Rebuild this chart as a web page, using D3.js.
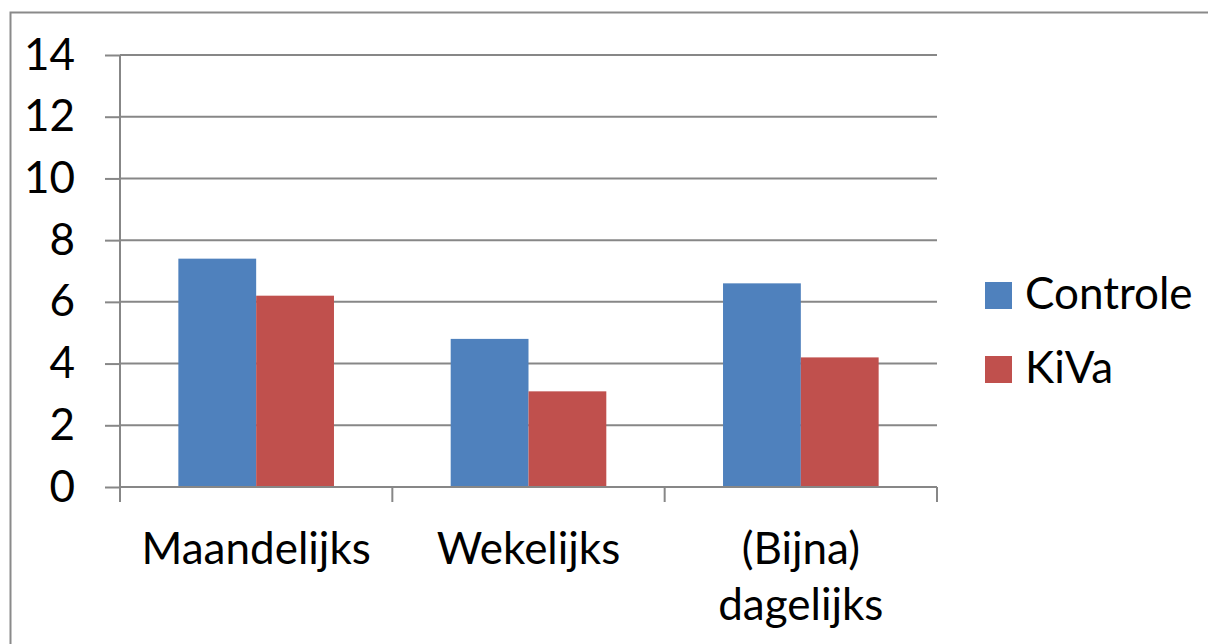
<!DOCTYPE html>
<html>
<head>
<meta charset="utf-8">
<script src="https://cdn.jsdelivr.net/npm/d3@7"></script>
<style>
  html, body { margin: 0; padding: 0; background: #fff; }
  svg { display: block; }
  text { font-family: Lato, "Open Sans", sans-serif; fill: #000; }
</style>
</head>
<body>
<svg id="chart" width="1208" height="644"></svg>
<script>
const categories = ["Maandelijks", "Wekelijks", "(Bijna) dagelijks"];
const seriesNames = ["Controle", "KiVa"];
const controleValues = [7.4, 4.8, 6.6];
const kivaValues = [6.2, 3.1, 4.2];
const yTicks = [0, 2, 4, 6, 8, 10, 12, 14];
const colors = ["#4F81BD", "#C0504D"];

const svg = d3.select("#chart");
const W = 1208, H = 644;
const plot = { left: 120, right: 937, top: 55, bottom: 487 };
const fontSize = 44;
const gridColor = "#878787";

// outer chart border (top & left visible, extends beyond frame)
svg.append("rect")
  .attr("x", 10.5).attr("y", 12.5)
  .attr("width", W + 20).attr("height", H + 20)
  .attr("fill", "none").attr("stroke", "#8a8a8a").attr("stroke-width", 2);

const x0 = d3.scaleBand().domain(categories).range([plot.left, plot.right]).paddingInner(0).paddingOuter(0);
const innerPad = x0.bandwidth() * 0.75 / 3.5; // gap width 150%
const x1 = d3.scaleBand().domain(seriesNames)
  .range([innerPad, x0.bandwidth() - innerPad]).padding(0);
const y = d3.scaleLinear().domain([0, 14]).range([plot.bottom, plot.top]);

// gridlines
svg.append("g").selectAll("line").data(yTicks.filter(d => d > 0)).join("line")
  .attr("x1", plot.left).attr("x2", plot.right)
  .attr("y1", d => y(d)).attr("y2", d => y(d))
  .attr("stroke", gridColor).attr("stroke-width", 2);

// bars
const data = categories.map((c, i) => ({ cat: c, vals: [controleValues[i], kivaValues[i]] }));
const groups = svg.append("g").selectAll("g").data(data).join("g")
  .attr("transform", d => `translate(${x0(d.cat)},0)`);
groups.selectAll("rect").data(d => d.vals.map((v, j) => ({ name: seriesNames[j], v, j }))).join("rect")
  .attr("x", d => x1(d.name))
  .attr("width", x1.bandwidth())
  .attr("y", d => y(d.v))
  .attr("height", d => y(0) - y(d.v))
  .attr("fill", d => colors[d.j]);

// y axis
const yAxis = d3.axisLeft(y).tickValues(yTicks).tickSize(15).tickPadding(30).tickFormat(d3.format("d"));
const yg = svg.append("g").attr("transform", `translate(${plot.left},0)`).call(yAxis);
yg.select(".domain").attr("stroke", gridColor).attr("stroke-width", 2)
  .attr("d", `M0,${plot.top}V${plot.bottom}`);
yg.selectAll(".tick line").attr("stroke", gridColor).attr("stroke-width", 2);
yg.selectAll(".tick text").attr("font-size", fontSize).attr("font-family", "Lato").attr("fill", "#000");

// x axis line and tick marks at category boundaries
const boundaries = categories.map(c => x0(c)).concat([plot.right]);
svg.append("line").attr("x1", plot.left).attr("x2", plot.right)
  .attr("y1", plot.bottom).attr("y2", plot.bottom)
  .attr("stroke", gridColor).attr("stroke-width", 2);
svg.append("g").selectAll("line").data(boundaries).join("line")
  .attr("x1", d => d).attr("x2", d => d)
  .attr("y1", plot.bottom).attr("y2", plot.bottom + 15)
  .attr("stroke", gridColor).attr("stroke-width", 2);

// x labels
const xl = svg.append("g").selectAll("text").data(categories).join("text")
  .attr("x", d => x0(d) + x0.bandwidth() / 2)
  .attr("y", 564)
  .attr("text-anchor", "middle")
  .attr("font-size", fontSize);
xl.each(function(d) {
  const words = d.split(" ");
  const t = d3.select(this);
  words.forEach((w, i) => {
    t.append("tspan").attr("x", x0(d) + x0.bandwidth() / 2)
      .attr("dy", i === 0 ? 0 : 56).text(w);
  });
});

// legend
const legend = svg.append("g").selectAll("g").data(seriesNames).join("g")
  .attr("transform", (d, i) => `translate(985,${282 + i * 74})`);
legend.append("rect").attr("width", 27).attr("height", 27).attr("fill", (d, i) => colors[i]);
legend.append("text").attr("x", 40).attr("y", 27).attr("font-size", fontSize).text(d => d);
</script>
</body>
</html>
